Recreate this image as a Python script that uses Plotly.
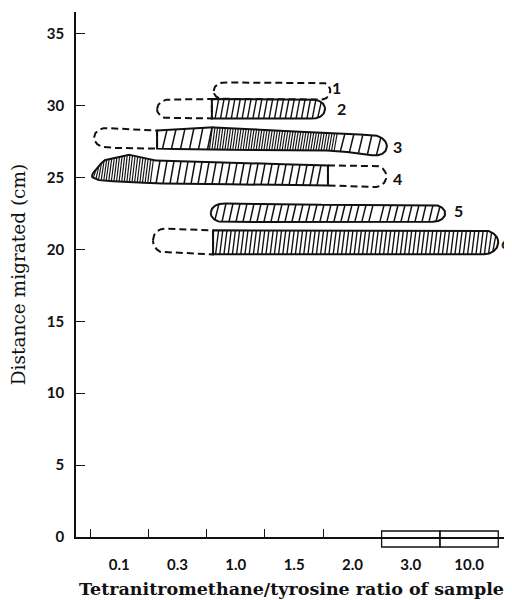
import numpy as np
import plotly.graph_objects as go

# ---------------- data ----------------
categories = ["0.1", "0.3", "1.0", "1.5", "2.0", "3.0", "10.0"]   # sample columns (x = column index, width 1)
column_ticks = [0, 1, 2, 3, 4]                                   # tick marks between columns
y_tick_values = [0, 5, 10, 15, 20, 25, 30, 35]
boxed_columns = [5, 6]                                           # columns drawn as boxes on the base line

band_names = ["1", "2", "3", "4", "5", "6"]
# x extent of each zone of a band (column units), hatch kind of each zone,
# and the top / bottom of the band (cm) at every zone edge
band_edges = [
    [2.12, 4.12],
    [1.15, 2.09, 4.03],
    [0.07, 1.15, 2.02, 4.20, 5.09],
    [0.03, 0.25, 0.65, 1.06, 4.08, 5.08],
    [2.07, 4.90, 6.09],
    [1.08, 2.11, 7.00],
]
band_kinds = [
    ["dashed"],
    ["dashed", "fine"],
    ["dashed", "coarse", "dense", "coarse"],
    ["dense", "dense", "dense", "sparse", "dashed"],
    ["sparse", "sparse"],
    ["dashed", "medium"],
]
band_top = [
    [31.60, 31.60],
    [30.40, 30.45, 30.40],
    [28.47, 28.26, 28.50, 28.06, 27.90],
    [25.40, 26.20, 26.60, 26.18, 25.83, 25.83],
    [23.19, 23.05, 23.10],
    [21.46, 21.32, 21.32],
]
band_bottom = [
    [30.42, 30.42],
    [29.10, 29.10, 29.10],
    [27.08, 27.00, 26.94, 26.87, 26.40],
    [24.80, 24.75, 24.72, 24.58, 24.44, 24.30],
    [21.88, 21.95, 21.90],
    [19.79, 19.65, 19.65],
]
label_x = [4.22, 4.31, 5.28, 5.28, 6.31, 7.13]
label_y = [31.25, 29.8, 27.15, 24.9, 22.7, 20.5]

# ---------------- layout / style ----------------
PAGE_PAD = 8                       # default body margin of the html page
W, H = 512 - PAGE_PAD, 600 - PAGE_PAD
M = dict(l=76 - PAGE_PAD, r=5, t=12 - PAGE_PAD, b=63)
X_RANGE = [-0.24, 7.15]
Y_RANGE = [0, 36.5]
PLOT_W = W - M["l"] - M["r"]
PLOT_H = H - M["t"] - M["b"]
PX_PER_X = PLOT_W / (X_RANGE[1] - X_RANGE[0])

# hatch kind -> (spacing px, slant px, line width)
HATCH = {
    "dense": (2.6, 3.0, 1.15),
    "fine": (5.4, 3.5, 1.4),
    "medium": (4.2, 3.0, 1.35),
    "sparse": (7.0, 4.0, 1.5),
    "coarse": (9.0, 4.5, 1.5),
}
CAP_L = [0.18, 0.20, 0.22, 0.20, 0.22, 0.20]
CAP_R = [0.15, 0.20, 0.25, 0.20, 0.22, 0.25]
OUTLINE_W = 2.0
INK = "#111111"
TICK_FONT = dict(family="Lato", size=15, color=INK, weight="bold")


def profile(i, x):
    x = np.atleast_1d(np.asarray(x, dtype=float))
    e = band_edges[i]
    t = np.interp(x, e, band_top[i])
    b = np.interp(x, e, band_bottom[i])
    m = (t + b) / 2
    h = (t - b) / 2
    f = np.ones_like(x)
    uL = (x - e[0]) / CAP_L[i]
    k = uL < 1
    f[k] *= np.sqrt(np.clip(1 - (1 - uL[k]) ** 2, 0, 1))
    uR = (e[-1] - x) / CAP_R[i]
    k = uR < 1
    f[k] *= np.sqrt(np.clip(1 - (1 - uR[k]) ** 2, 0, 1))
    return m + f * h, m - f * h


fig = go.Figure()
dashed_traces, hatch_traces, solid_traces = [], [], []

for i, name in enumerate(band_names):
    e = band_edges[i]
    kinds = band_kinds[i]
    # group consecutive zones into dashed / hatched runs
    groups = []
    for j, kd in enumerate(kinds):
        dashed = kd == "dashed"
        if groups and groups[-1][2] == dashed:
            groups[-1][1] = e[j + 1]
        else:
            groups.append([e[j], e[j + 1], dashed])
    for a, b, dashed in groups:
        xs = np.linspace(a, b, max(80, int((b - a) * 200)))
        top, bot = profile(i, xs)
        px = np.concatenate([xs, xs[::-1], xs[:1]])
        py = np.concatenate([top, bot[::-1], top[:1]])
        tr = go.Scatter(x=px, y=py, mode="lines",
                        line=dict(color=INK, width=OUTLINE_W,
                                  dash="7px,4px" if dashed else "solid"),
                        hoverinfo="skip", showlegend=False)
        (dashed_traces if dashed else solid_traces).append(tr)
        if dashed:
            continue
        # hatch lines for the zones inside this run
        for j, kd in enumerate(kinds):
            if kd == "dashed" or e[j] < a - 1e-9 or e[j + 1] > b + 1e-9:
                continue
            sp, sl, lw = HATCH[kd]
            s = sp / PX_PER_X
            d = sl / PX_PER_X
            hx, hy = [], []
            for x0 in np.arange(e[j] + s * 0.6, e[j + 1], s):
                x1 = x0 + d
                if x1 >= b:
                    continue
                y0 = profile(i, x0)[1][0]
                y1 = profile(i, x1)[0][0]
                if y1 - y0 < 0.15:
                    continue
                hx += [x0, x1, None]
                hy += [y0, y1, None]
            hatch_traces.append(go.Scatter(x=hx, y=hy, mode="lines",
                                           line=dict(color=INK, width=lw),
                                           hoverinfo="skip", showlegend=False))

for tr in dashed_traces + hatch_traces + solid_traces:
    fig.add_trace(tr)

# band numbers: anchored at the band's right end, offset to the read position
for i, name in enumerate(band_names):
    end = band_edges[i][-1]
    fig.add_annotation(x=end, y=label_y[i], text=name, showarrow=False,
                       xshift=(label_x[i] - end) * PX_PER_X,
                       font=dict(family="Lato", size=16, color=INK, weight="bold"),
                       xanchor="center", yanchor="middle")

for c in boxed_columns:
    fig.add_shape(type="rect", xref="x", yref="paper", x0=c, x1=c + 1,
                  y0=-10 / PLOT_H, y1=6 / PLOT_H,
                  line=dict(color=INK, width=1.3), fillcolor="rgba(0,0,0,0)")

fig.update_layout(
    width=W, height=H, margin=M,
    paper_bgcolor="white", plot_bgcolor="white",
    showlegend=False,
    font=dict(family="Lato", color=INK),
)
fig.update_xaxes(
    range=X_RANGE, showgrid=False, zeroline=False, automargin=False,
    showline=True, linecolor=INK, linewidth=1.5,
    tickmode="array",
    tickvals=[k + 0.5 for k in range(len(categories))],
    ticktext=categories, ticks="", ticklabelstandoff=13,
    tickfont=TICK_FONT,
    minor=dict(tickmode="array", tickvals=column_ticks, ticks="inside",
               ticklen=8, tickwidth=1.4, tickcolor=INK),
    title=dict(text="Tetranitromethane/tyrosine ratio of sample",
               font=dict(family="DejaVu Serif", size=17.5, color=INK, weight="bold"),
               standoff=11),
)
fig.update_yaxes(
    range=Y_RANGE, showgrid=False, zeroline=False, automargin=False,
    showline=True, linecolor=INK, linewidth=1.5,
    tickmode="array", tickvals=y_tick_values,
    ticks="inside", ticklen=9, tickwidth=1.4, tickcolor=INK,
    ticklabelstandoff=7,
    tickfont=TICK_FONT,
    title=dict(text="Distance migrated (cm)",
               font=dict(family="DejaVu Serif", size=18.5, color=INK),
               standoff=16),
)

fig.write_html("out.html")
